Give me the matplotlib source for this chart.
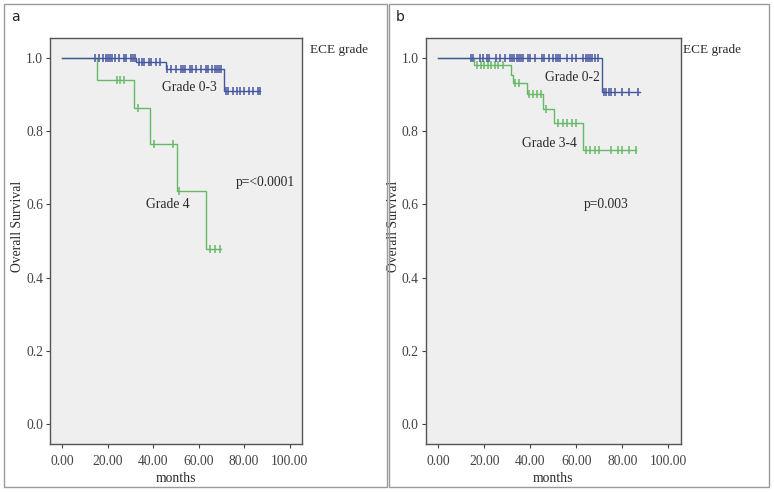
import numpy as np
import matplotlib
matplotlib.use("Agg")
import matplotlib.pyplot as plt
from matplotlib.patches import Rectangle

# ---------------- data ----------------
# Panel a
a_hi_event_t = [0, 32.6, 45.4, 71.2, 87.0]
a_hi_surv = [1.0, 0.989, 0.971, 0.911, 0.911]
a_hi_cens = [14.5, 16, 18, 19, 20, 21, 22, 23, 25, 27, 28, 30, 31, 32,
             33.5, 35, 36, 38, 39, 41, 43,
             46, 48, 50, 52, 53, 54, 56, 57, 59, 61, 63, 64, 66, 67, 68, 69, 70,
             72, 73, 75, 77, 78, 80, 82, 84, 86, 87]
a_lo_event_t = [0, 15.4, 31.6, 38.4, 50.3, 63.1, 70.0]
a_lo_surv = [1.0, 0.941, 0.863, 0.766, 0.638, 0.479, 0.479]
a_lo_cens = [24, 25.5, 27, 33.4, 40.4, 48.8, 51.3, 65, 67, 69.5]

# Panel b
b_hi_event_t = [0, 71.3, 87.7]
b_hi_surv = [1.0, 0.906, 0.906]
b_hi_cens = [14.2, 15, 18, 19.5, 21, 22, 25, 27, 29, 31, 32, 33, 34, 35, 36, 37,
             39, 40, 42, 45, 46, 48, 50, 51, 52, 53, 56, 58, 60, 63, 64, 65, 66,
             67, 68, 69.5, 72, 73, 74, 75, 77, 80, 83, 87]
b_lo_event_t = [0, 15.6, 31.5, 32.6, 38.4, 45.7, 50.4, 63.0, 86.0]
b_lo_surv = [1.0, 0.980, 0.954, 0.932, 0.901, 0.861, 0.822, 0.750, 0.750]
b_lo_cens = [17, 18.5, 20, 21.5, 23, 24.5, 26, 28, 33.5, 35, 39.5, 41, 43, 44.5,
             47, 52, 54, 56, 58, 60, 64.2, 66, 68, 70, 75, 78, 80, 83, 86]

panel_letters = ["a", "b"]
group_labels = [["Grade 0-3", "Grade 4"], ["Grade 0-2", "Grade 3-4"]]
p_texts = ["p=<0.0001", "p=0.003"]
legend_title = "ECE grade"
x_ticks = [0, 20, 40, 60, 80, 100]
y_ticks = [0.0, 0.2, 0.4, 0.6, 0.8, 1.0]

BLUE = "#45579f"
GREEN = "#66b966"
TXT = "#2a2a2a"
SERIF = ["Liberation Serif", "DejaVu Serif"]
FS = 9.8

fig = plt.figure(figsize=(7.74, 4.92), dpi=100)
W, H = 774, 492

def fx(px):
    return px / W

def fy(py):
    return 1 - py / H

# panel borders
for (x0, y0, x1, y1) in [(4, 4, 387, 487), (389, 4, 769, 487)]:
    fig.patches.append(Rectangle((fx(x0), fy(y1)), fx(x1) - fx(x0), fy(y0) - fy(y1),
                                 transform=fig.transFigure, fill=False,
                                 edgecolor="#9a9a9a", linewidth=1.0))

axes_px = [(50, 38, 302, 444), (425.7, 38, 681, 444)]

def draw_km(ax, t, s, cens, color):
    t = np.asarray(t, float)
    s = np.asarray(s, float)
    ax.step(t, s, where="post", color=color, linewidth=1.0)
    c = np.asarray(cens, float)
    idx = np.searchsorted(t, c, side="right") - 1
    idx = np.clip(idx, 0, len(s) - 1)
    ax.plot(c, s[idx], linestyle="none", marker="|", markersize=6,
            markeredgewidth=1.1, color=color)

series = [
    ((a_hi_event_t, a_hi_surv, a_hi_cens), (a_lo_event_t, a_lo_surv, a_lo_cens)),
    ((b_hi_event_t, b_hi_surv, b_hi_cens), (b_lo_event_t, b_lo_surv, b_lo_cens)),
]
label_pos = [[(55.7, 0.919), (46.4, 0.599)], [(58.1, 0.948), (48.1, 0.766)]]
p_pos = [(89.2, 0.660), (73.1, 0.600)]
legend_px = [(310, 50), (683, 50)]
letter_px = [(15, 17), (400, 17)]

for i, (x0, y0, x1, y1) in enumerate(axes_px):
    ax = fig.add_axes([fx(x0), fy(y1), fx(x1) - fx(x0), fy(y0) - fy(y1)])
    ax.set_facecolor("#efefef")
    hi, lo = series[i]
    draw_km(ax, *lo, GREEN)
    draw_km(ax, *hi, BLUE)
    ax.set_xlim(-5.5, 105.5)
    ax.set_ylim(-0.055, 1.055)
    ax.set_xticks(x_ticks)
    ax.set_xticklabels([f"{v:.2f}" for v in x_ticks], fontfamily=SERIF, fontsize=FS,
                       color=TXT)
    ax.set_yticks(y_ticks)
    ax.set_yticklabels([f"{v:.1f}" for v in y_ticks], fontfamily=SERIF, fontsize=FS,
                       color=TXT)
    ax.tick_params(direction="out", length=3, width=0.8, colors="#444444")
    ax.tick_params(axis="x", pad=5)
    ax.tick_params(axis="y", pad=2)
    for sp in ax.spines.values():
        sp.set_color("#555555")
        sp.set_linewidth(1.0)
    ax.set_xlabel("months", fontfamily=SERIF, fontsize=FS, color=TXT)
    ax.set_ylabel("Overall Survival", fontfamily=SERIF, fontsize=FS, color=TXT)
    axw = x1 - x0
    axh = y1 - y0
    ax.yaxis.label.set_va("center")
    ax.yaxis.set_label_coords(-32 / axw, (y1 - 226) / axh)
    ax.xaxis.label.set_va("center")
    ax.xaxis.set_label_coords(0.5, (y1 - 478) / axh)
    for lab, (lx, ly) in zip(group_labels[i], label_pos[i]):
        ax.text(lx, ly, lab, fontfamily=SERIF, fontsize=FS, color=TXT,
                ha="center", va="center")
    ax.text(p_pos[i][0], p_pos[i][1], p_texts[i], fontfamily=SERIF, fontsize=FS,
            color=TXT, ha="center", va="center")
    fig.text(fx(legend_px[i][0]), fy(legend_px[i][1]), legend_title, fontfamily=SERIF,
             fontsize=9.5, color=TXT, ha="left", va="center")
    fig.text(fx(letter_px[i][0]), fy(letter_px[i][1]), panel_letters[i],
             fontfamily="DejaVu Sans", fontsize=10, color="#222222", ha="center", va="center")

fig.savefig("out.png", dpi=100, facecolor="white")
